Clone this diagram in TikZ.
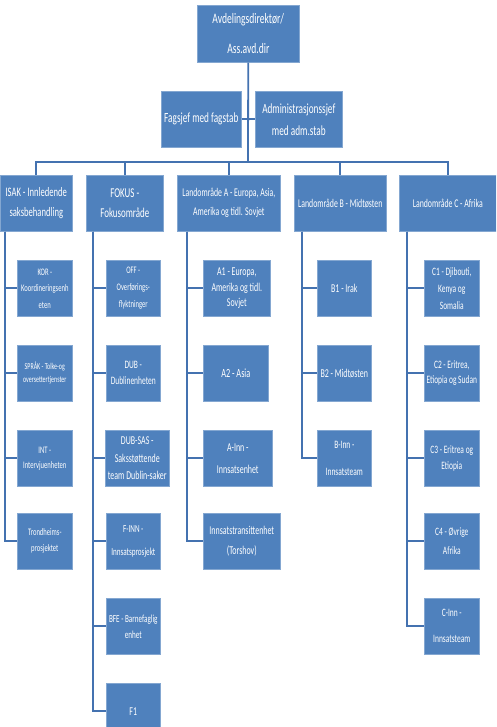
\documentclass[tikz,border=0pt]{standalone}
\usepackage{fontspec}
\setmainfont{Carlito}[FakeStretch=0.66]
\usepackage{tikz}
\usetikzlibrary{positioning}
\definecolor{orgblue}{HTML}{4F81BD}
\definecolor{orgline}{HTML}{4472B0}
\newcommand{\boxfont}[2]{\fontsize{#1}{#2}\selectfont}

\begin{document}
\begin{tikzpicture}[x=1pt,y=-1pt,
		unit/.style={draw=orgblue!70!white, line width=0.6pt, fill=orgblue, text=white, align=center, inner sep=1pt, anchor=north west, minimum height=56pt},
		link/.style={draw=orgline, line width=1.8pt}
	]
	\useasboundingbox (0,0) rectangle (496,727);
	\clip (0,0) rectangle (496,727);

	% Top level
	\node[unit, minimum width=102pt, minimum height=57pt, font=\boxfont{14.5}{30}] (dir) at (197,5) {Avdelingsdirektør/\\Ass.avd.dir};
	\node[unit, minimum width=80pt, font=\boxfont{14}{22}] (fag) at (161,91) {Fagsjef med fagstab};
	\node[unit, minimum width=87pt, font=\boxfont{14}{22}] (adm) at (255,91) {Administrasjonssjef\\med adm.stab};
	\coordinate (hub) at (248,162);

	% Sections
	\node[unit, minimum width=72pt, font=\boxfont{13}{20}] (isak) at (0,175) {ISAK - Innledende\\saksbehandling};
	\node[unit, minimum width=77pt, font=\boxfont{13.5}{20}] (fokus) at (86,175) {FOKUS -\\Fokusområde};
	\node[unit, minimum width=103pt, font=\boxfont{11.8}{19}] (landa) at (177,175) {Landområde A - Europa, Asia,\\Amerika og tidl. Sovjet};
	\node[unit, minimum width=92pt, font=\boxfont{11.8}{19}] (landb) at (294,175) {Landområde B - Midtøsten};
	\node[unit, minimum width=97pt, font=\boxfont{11.8}{19}] (landc) at (399,175) {Landområde C - Afrika};

	% ISAK units
	\node[unit, minimum width=55pt, font=\boxfont{10}{16.5}] (kor) at (17,260) {KOR -\\Koordineringsenh\\eten};
	\node[unit, minimum width=55pt, font=\boxfont{9}{13}] (sprak) at (17,345) {SPRÅK - Tolke-og\\oversettertjenster};
	\node[unit, minimum width=55pt, font=\boxfont{10}{15}] (int) at (17,430) {INT -\\Intervjuenheten};
	\node[unit, minimum width=55pt, font=\boxfont{10}{16}] (trond) at (17,513) {Trondheims-\\prosjektet};

	% FOKUS units
	\node[unit, minimum width=54pt, font=\boxfont{10}{17}] (off) at (106,260) {OFF -\\Overførings-\\flyktninger};
	\node[unit, minimum width=54pt, font=\boxfont{11.3}{16}] (dub) at (106,345) {DUB -\\Dublinenheten};
	\node[unit, minimum width=64pt, font=\boxfont{12}{17.5}] (dubsas) at (105,430) {DUB-SAS -\\Saksstøttende\\team Dublin-saker};
	\node[unit, minimum width=54pt, font=\boxfont{10.8}{23}] (finn) at (106,513) {F-INN -\\Innsatsprosjekt};
	\node[unit, minimum width=54pt, font=\boxfont{10.8}{16}] (bfe) at (106,598) {BFE - Barnefaglig\\enhet};
	\node[unit, minimum width=54pt, font=\boxfont{12}{16}] (fone) at (106,683) {F1};

	% Landområde A units
	\node[unit, minimum width=67pt, font=\boxfont{12}{15.5}] (aone) at (203,260) {A1 - Europa,\\Amerika og tidl.\\Sovjet};
	\node[unit, minimum width=65pt, font=\boxfont{12.5}{16}] (atwo) at (203,345) {A2 - Asia};
	\node[unit, minimum width=69pt, font=\boxfont{12}{22}] (ainn) at (203,430) {A-Inn -\\Innsatsenhet};
	\node[unit, minimum width=77pt, font=\boxfont{12}{20}] (atrans) at (203,513) {Innsatstransittenhet\\(Torshov)};

	% Landområde B units
	\node[unit, minimum width=54pt, font=\boxfont{12}{16}] (bone) at (317,260) {B1 - Irak};
	\node[unit, minimum width=54pt, font=\boxfont{12}{16}] (btwo) at (317,345) {B2 - Midtøsten};
	\node[unit, minimum width=54pt, font=\boxfont{11.3}{27}] (binn) at (317,430) {B-Inn -\\Innsatsteam};

	% Landområde C units
	\node[unit, minimum width=55pt, font=\boxfont{11.3}{17}] (cone) at (424,260) {C1 - Djibouti,\\Kenya og\\Somalia};
	\node[unit, minimum width=55pt, font=\boxfont{11.3}{14.5}] (ctwo) at (424,345) {C2 - Eritrea,\\Etiopia og Sudan};
	\node[unit, minimum width=55pt, font=\boxfont{11.3}{16}] (cthree) at (424,430) {C3 - Eritrea og\\Etiopia};
	\node[unit, minimum width=55pt, font=\boxfont{11.3}{19}] (cfour) at (424,513) {C4 - Øvrige\\Afrika};
	\node[unit, minimum width=55pt, font=\boxfont{11.3}{26}] (cinn) at (424,598) {C-Inn -\\Innsatsteam};

	% Top connectors
	\draw[link] (dir) -- (hub);
	\draw[link] (fag.east) -- (adm.west);
	\draw[link] (hub) -| (isak);
	\draw[link] (hub) -| (fokus);
	\draw[link] (hub) -| (landa);
	\draw[link] (hub) -| (landb);
	\draw[link] (hub) -| (landc);

	% Unit connectors
	\draw[link] ([xshift=5pt]isak.south west) |- (kor.west);
	\draw[link] ([xshift=5pt]isak.south west) |- (sprak.west);
	\draw[link] ([xshift=5pt]isak.south west) |- (int.west);
	\draw[link] ([xshift=5pt]isak.south west) |- (trond.west);

	\draw[link] ([xshift=7pt]fokus.south west) |- (off.west);
	\draw[link] ([xshift=7pt]fokus.south west) |- (dub.west);
	\draw[link] ([xshift=7pt]fokus.south west) |- (dubsas.west);
	\draw[link] ([xshift=7pt]fokus.south west) |- (finn.west);
	\draw[link] ([xshift=7pt]fokus.south west) |- (bfe.west);
	\draw[link] ([xshift=7pt]fokus.south west) |- (fone.west);

	\draw[link] ([xshift=10pt]landa.south west) |- (aone.west);
	\draw[link] ([xshift=10pt]landa.south west) |- (atwo.west);
	\draw[link] ([xshift=10pt]landa.south west) |- (ainn.west);
	\draw[link] ([xshift=10pt]landa.south west) |- (atrans.west);

	\draw[link] ([xshift=8pt]landb.south west) |- (bone.west);
	\draw[link] ([xshift=8pt]landb.south west) |- (btwo.west);
	\draw[link] ([xshift=8pt]landb.south west) |- (binn.west);

	\draw[link] ([xshift=8pt]landc.south west) |- (cone.west);
	\draw[link] ([xshift=8pt]landc.south west) |- (ctwo.west);
	\draw[link] ([xshift=8pt]landc.south west) |- (cthree.west);
	\draw[link] ([xshift=8pt]landc.south west) |- (cfour.west);
	\draw[link] ([xshift=8pt]landc.south west) |- (cinn.west);
\end{tikzpicture}
\end{document}
